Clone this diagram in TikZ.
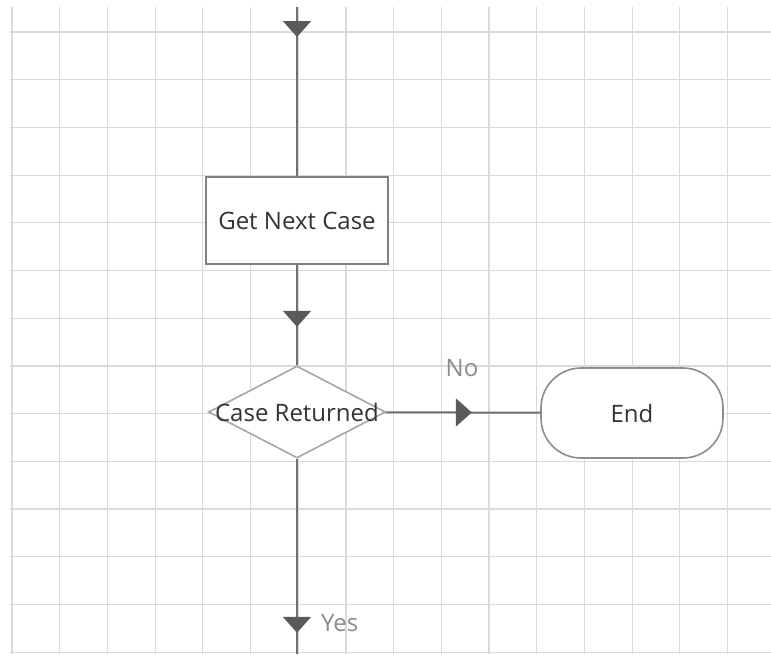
\documentclass[tikz,border=0pt]{standalone}
\usepackage{fontspec}
\setmainfont{Open Sans}
\usetikzlibrary{arrows.meta, shapes.geometric, decorations.markings}
\definecolor{gridgray}{HTML}{DADADA}
\definecolor{linegray}{HTML}{707070}
\definecolor{tipgray}{HTML}{5A5A5A}
\definecolor{textgray}{HTML}{333333}
\definecolor{labelgray}{HTML}{8C8C8C}

\begin{document}
\begin{tikzpicture}[x=0.5pt, y=-0.5pt, font=\fontsize{12}{14}\selectfont,
    flowline/.style={draw=linegray, line width=1pt},
    tipat/.style={postaction={decorate, decoration={markings,
        mark=at position #1 with {\arrow[tipgray]{Triangle[width=14pt, length=8pt]}}}}},
    process/.style={draw=gray, line width=0.8pt, fill=white, text=textgray,
        minimum width=91pt, minimum height=43.5pt},
    decision/.style={diamond, draw=gray!70, line width=0.8pt, fill=white,
        minimum width=88.5pt, minimum height=46pt, inner sep=0pt},
    terminal/.style={draw=gray!90, line width=0.8pt, fill=white, text=textgray,
        rounded corners=20pt, minimum width=91pt, minimum height=45pt}]

    \fill[white] (0,0) rectangle (771,654);
    \useasboundingbox (0,0) rectangle (771,654);

    % grid
    \foreach \i in {0,...,15}
        \draw[gridgray, line width=0.6pt] (12+47.7*\i, 7) -- (12+47.7*\i, 654);
    \foreach \j in {0,...,13}
        \draw[gridgray, line width=0.6pt] (10, 32+47.7*\j) -- (771, 32+47.7*\j);

    \coordinate (top) at (297,7);
    \coordinate (bottom) at (297,654);

    \node[process] (getcase) at (297,220.5) {Get Next Case};
    \node[decision] (returned) at (297,412) {};
    \node[text=textgray] (returnedtext) at (returned) {Case Returned};
    \node[terminal] (finish) at (632,413) {End};

    \draw[flowline, tipat=15pt] (top) -- (getcase);
    \draw[flowline, tipat=31pt] (getcase) -- (returned);
    \draw[flowline, tipat=43pt] (returned) -- (finish);
    \draw[flowline, tipat=87pt] (returned) -- (bottom);

    \node[text=labelgray] (nolabel) at (462,368) {No};
    \node[text=labelgray, anchor=west] (yeslabel) at (314,623) {Yes};

\end{tikzpicture}
\end{document}
